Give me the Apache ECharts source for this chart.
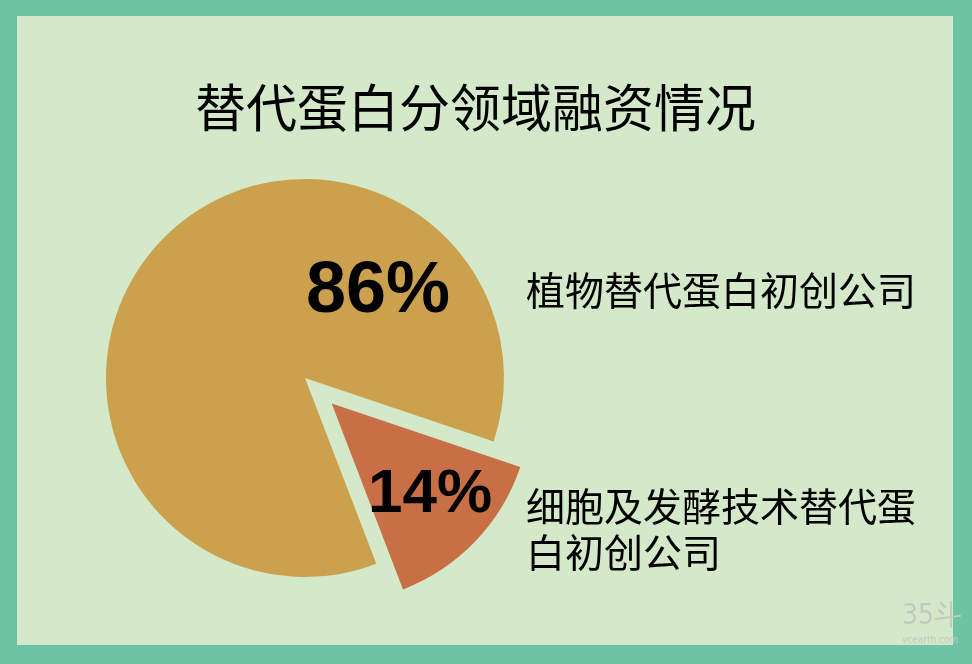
<!DOCTYPE html>
<html>
<head>
<meta charset="utf-8">
<script src="https://cdn.jsdelivr.net/npm/echarts@6/dist/echarts.min.js"></script>
<style>
html,body{margin:0;padding:0;width:972px;height:664px;overflow:hidden;background:#6cc4a4;}
#chart{position:absolute;left:17px;top:16px;width:936px;height:629px;background:#d4e9c9;}
#wm{position:absolute;left:902px;top:601px;color:#c4c8c0;font-family:"DejaVu Sans Condensed","DejaVu Sans",sans-serif;line-height:1;white-space:nowrap;}
#wm .a{font-size:28px;}
#wm .b{font-size:10px;margin-top:6px;}
</style>
</head>
<body>
<div id="chart"></div>
<div id="wm"><div class="a">35斗</div><div class="b">vcearth.com</div></div>
<script>
const titleText = '替代蛋白分领域融资情况';
const categories = ['植物替代蛋白初创公司', '细胞及发酵技术替代蛋白初创公司'];
const legendLabels = ['植物替代蛋白初创公司', '细胞及发酵技术替代蛋\n白初创公司'];
const values = [86, 14];
const colors = ['#cca14e', '#c86f45'];
const labelSizes = [72, 62];
const labelOffsets = [[147, -15], [4, -2]];

const chart = echarts.init(document.getElementById('chart'));
const data = categories.map((name, i) => {
  const lbl = {
    show: true,
    position: 'inside',
    formatter: '{d}%',
    offset: labelOffsets[i],
    fontSize: labelSizes[i],
    fontWeight: 'bold',
    fontFamily: 'Liberation Sans, Arial, sans-serif',
    color: '#000'
  };
  return {
    name: name,
    value: values[i],
    selected: i === 1,
    itemStyle: { color: colors[i] },
    label: lbl,
    select: { label: lbl, itemStyle: { color: colors[i] } }
  };
});

chart.setOption({
  animation: false,
  backgroundColor: 'transparent',
  title: {
    text: titleText,
    left: 173,
    top: 61,
    textStyle: {
      fontSize: 51,
      fontWeight: 'normal',
      color: '#000',
      fontFamily: 'Noto Sans CJK SC'
    }
  },
  legend: {
    orient: 'vertical',
    left: 499,
    top: 246,
    icon: 'none',
    itemWidth: 0,
    itemHeight: 10,
    itemGap: 170,
    selectedMode: false,
    data: categories,
    formatter: name => legendLabels[categories.indexOf(name)],
    textStyle: {
      fontSize: 39,
      lineHeight: 46,
      color: '#000',
      fontFamily: 'Noto Sans CJK SC'
    }
  },
  series: [{
    type: 'pie',
    center: [288, 362],
    radius: 199,
    startAngle: 291,
    clockwise: true,
    selectedMode: 'single',
    selectedOffset: 37,
    silent: true,
    labelLine: { show: false },
    itemStyle: { borderWidth: 0 },
    data: data
  }]
});
</script>
</body>
</html>
